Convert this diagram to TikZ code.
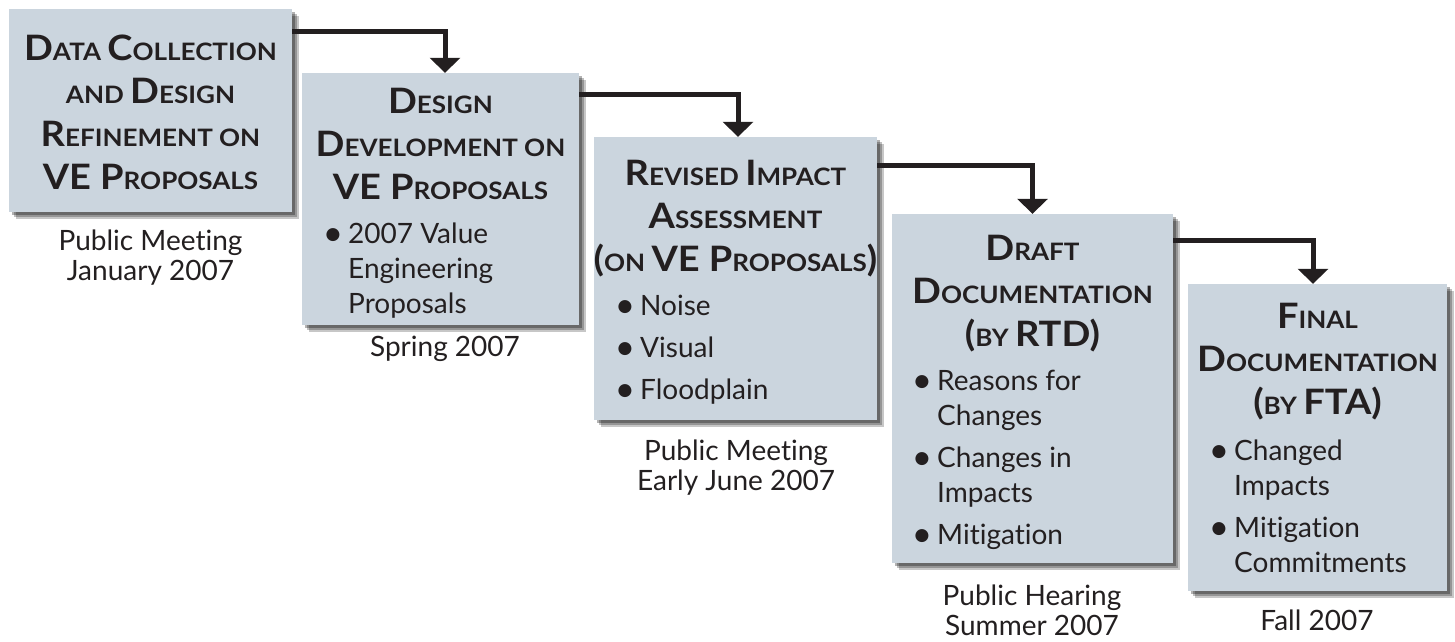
\documentclass[tikz,border=0pt]{standalone}
\usepackage{fontspec}
\setmainfont{Lato}[Ligatures=NoCommon]
\newfontfamily\titlefont{Lato}[Ligatures=NoCommon, FakeStretch=1.085]
\usetikzlibrary{arrows.meta,shadows,calc}
\definecolor{boxfill}{HTML}{CBD5DE}
\definecolor{ink}{HTML}{231F20}
\newcommand\Bg[1]{{\fontsize{35}{43}\selectfont #1}}
\newcommand\bul{\llap{\raisebox{-2pt}{\fontsize{35}{35}\selectfont\textbullet}\hspace{5pt}}}
\tikzset{
  box/.style={fill=boxfill, draw=none, inner sep=0pt,
    drop shadow={shadow xshift=7pt, shadow yshift=-7pt, opacity=.22, fill=black},
    drop shadow={shadow xshift=5pt, shadow yshift=-5pt, opacity=.25, fill=black},
    drop shadow={shadow xshift=3pt, shadow yshift=-3pt, opacity=.3, fill=black}},
  conn/.style={draw=ink, line width=5pt, -{Triangle[width=30pt,length=15pt]}},
  title/.style={anchor=base, inner sep=0pt, text=ink, font=\titlefont\bfseries\fontsize{24}{43}\selectfont},
  items/.style={anchor=base west, inner sep=0pt, text=ink, font=\fontsize{28}{35}\selectfont},
  label/.style={anchor=base, inner sep=0pt, text=ink, font=\fontsize{28}{30}\selectfont}
}
\begin{document}
\begin{tikzpicture}[x=1pt,y=-1pt]
\useasboundingbox (0,0) rectangle (1455,641);
% boxes
\node[box, minimum width=283pt, minimum height=203pt] (b1) at (150.5,110.5) {};
\node[box, minimum width=277pt, minimum height=252pt] (b2) at (440.5,199) {};
\node[box, minimum width=283pt, minimum height=283pt] (b3) at (735.5,278.5) {};
\node[box, minimum width=281pt, minimum height=349pt] (b4) at (1032.5,388.5) {};
\node[box, minimum width=259pt, minimum height=307pt] (b5) at (1317.5,437.5) {};
% connectors
\draw[conn] ($(b1.north east)+(0,23)$) -| ($(b2.north)+(4.5,0)$);
\draw[conn] ($(b2.north east)+(0,22)$) -| ($(b3.north)+(2.5,0)$);
\draw[conn] ($(b3.north east)+(0,29)$) -| (b4.north);
\draw[conn] ($(b4.north east)+(0,27)$) -| ($(b5.north)+(-4.5,0)$);
% titles
\node[title] (t1) at (150.5,60) {\begin{tabular}[t]{@{}c@{}}\Bg{D}ATA \Bg{C}OLLECTION\\ AND \Bg{D}ESIGN\\ \Bg{R}EFINEMENT ON\\ \Bg{VE P}ROPOSALS\end{tabular}};
\node[title] (t2) at (440.5,113) {\begin{tabular}[t]{@{}c@{}}\Bg{D}ESIGN\\ \Bg{D}EVELOPMENT ON\\ \Bg{VE P}ROPOSALS\end{tabular}};
\node[title] (t3) at (735.5,185) {\begin{tabular}[t]{@{}c@{}}\Bg{R}EVISED \Bg{I}MPACT\\ \Bg{A}SSESSMENT\\ \Bg{(}ON \Bg{VE P}ROPOSALS\Bg{)}\end{tabular}};
\node[title] (t4) at (1032.5,260) {\begin{tabular}[t]{@{}c@{}}\Bg{D}RAFT\\ \Bg{D}OCUMENTATION\\ \Bg{(}BY \Bg{RTD)}\end{tabular}};
\node[title] (t5) at (1317.5,328) {\begin{tabular}[t]{@{}c@{}}\Bg{F}INAL\\ \Bg{D}OCUMENTATION\\ \Bg{(}BY \Bg{FTA)}\end{tabular}};
% bullet lists
\node[items] (i2) at (348,243) {\begin{tabular}[t]{@{}l@{}}\bul 2007 Value\\ Engineering\\ Proposals\end{tabular}};
\node[items] (i3) at (640,315) {\begin{tabular}[t]{@{}l@{}}\bul Noise\\[7pt] \bul Visual\\[7pt] \bul Floodplain\end{tabular}};
\node[items] (i4) at (937,390) {\begin{tabular}[t]{@{}l@{}}\bul Reasons for\\ Changes\\[7pt] \bul Changes in\\ Impacts\\[7pt] \bul Mitigation\end{tabular}};
\node[items] (i5) at (1234,460) {\begin{tabular}[t]{@{}l@{}}\bul Changed\\ Impacts\\[7pt] \bul Mitigation\\ Commitments\end{tabular}};
% labels below
\node[label] (l1) at (150.5,250) {\begin{tabular}[t]{@{}c@{}}Public Meeting\\ January 2007\end{tabular}};
\node[label] (l2) at (445,356) {Spring 2007};
\node[label] (l3) at (736,460) {\begin{tabular}[t]{@{}c@{}}Public Meeting\\ Early June 2007\end{tabular}};
\node[label] (l4) at (1032,605) {\begin{tabular}[t]{@{}c@{}}Public Hearing\\ Summer 2007\end{tabular}};
\node[label] (l5) at (1317,630) {Fall 2007};
\end{tikzpicture}
\end{document}
